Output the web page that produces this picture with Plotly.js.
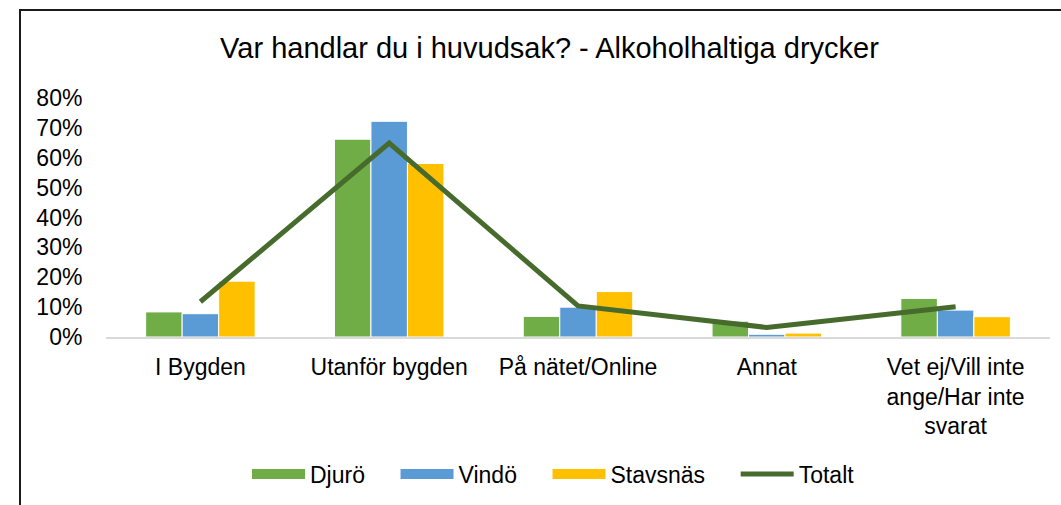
<!DOCTYPE html>
<html>
<head>
<meta charset="utf-8">
<script src="https://cdn.plot.ly/plotly-3.0.1.min.js"></script>
<style>
  html, body { margin: 0; padding: 0; background: #fff; overflow: hidden; }
  #wrap { position: relative; width: 1061px; height: 505px; }
  #chart { width: 1061px; height: 505px; }
  #frame { position: absolute; left: 19px; top: 9px; width: 1100px; height: 600px;
           border-top: 2px solid #1a1a1a; border-left: 2px solid #1a1a1a; pointer-events: none; }
</style>
</head>
<body>
<div id="wrap">
  <div id="chart"></div>
  <div id="frame"></div>
</div>
<script>
const categories = ["I Bygden", "Utanför bygden", "På nätet/Online", "Annat", "Vet ej/Vill inte<br>ange/Har inte<br>svarat"];
const seriesNames = ["Djurö", "Vindö", "Stavsnäs", "Totalt"];
const djuro    = [0.084, 0.662, 0.069, 0.053, 0.129];
const vindo    = [0.078, 0.722, 0.100, 0.009, 0.090];
const stavsnas = [0.187, 0.581, 0.152, 0.013, 0.068];
const totalt   = [0.118, 0.649, 0.104, 0.032, 0.101];

const C_DJURO = "#70AD47", C_VINDO = "#5B9BD5", C_STAV = "#FFC000", C_TOT = "#466B2C";
const font = {family: "Liberation Sans, Arial, sans-serif", size: 23, color: "#000"};
const PAD = "\u00a0\u00a0\u00a0\u00a0";

function bar(name, y, color) {
  return {type: "bar", name: name, x: categories, y: y, showlegend: false,
          marker: {color: color, line: {color: "#fff", width: 1}}, hoverinfo: "skip"};
}
function legendItem(name, color) {
  return {type: "scatter", mode: "lines", name: name + PAD, x: [categories[0]], y: [null],
          line: {color: color, width: 10}, hoverinfo: "skip"};
}

const data = [
  bar(seriesNames[0], djuro, C_DJURO),
  bar(seriesNames[1], vindo, C_VINDO),
  bar(seriesNames[2], stavsnas, C_STAV),
  legendItem(seriesNames[0], C_DJURO),
  legendItem(seriesNames[1], C_VINDO),
  legendItem(seriesNames[2], C_STAV),
  {type: "scatter", mode: "lines", name: seriesNames[3], x: categories, y: totalt,
   line: {color: C_TOT, width: 5}, hoverinfo: "skip"}
];

const layout = {
  width: 1061, height: 505,
  margin: {l: 106, r: 11, t: 98, b: 167},
  paper_bgcolor: "#fff", plot_bgcolor: "#fff",
  font: font,
  title: {text: "Var handlar du i huvudsak? - Alkoholhaltiga drycker",
          font: {family: font.family, size: 29, color: "#000"},
          xref: "container", yref: "container", x: 549.5/1061, xanchor: "center",
          y: 1 - 48/505, yanchor: "middle"},
  barmode: "group", bargap: 0.42, bargroupgap: 0,
  xaxis: {type: "category", showgrid: false, zeroline: false,
          showline: true, linecolor: "#D9D9D9", linewidth: 2,
          ticks: "outside", ticklen: 8, tickcolor: "rgba(0,0,0,0)",
          tickfont: font, fixedrange: true},
  yaxis: {range: [0, 0.8], dtick: 0.1, tickformat: ".0%", showgrid: false,
          zeroline: false, showline: false,
          ticks: "outside", ticklen: 18, tickcolor: "rgba(0,0,0,0)",
          tickfont: font, fixedrange: true},
  legend: {orientation: "h", x: (553.5 - 106)/944, xanchor: "center",
           y: (338 - 474)/240, yanchor: "middle", itemwidth: 53,
           font: font, traceorder: "normal", bgcolor: "rgba(0,0,0,0)"},
  showlegend: true
};

Plotly.newPlot("chart", data, layout, {staticPlot: true, displayModeBar: false});
</script>
</body>
</html>
